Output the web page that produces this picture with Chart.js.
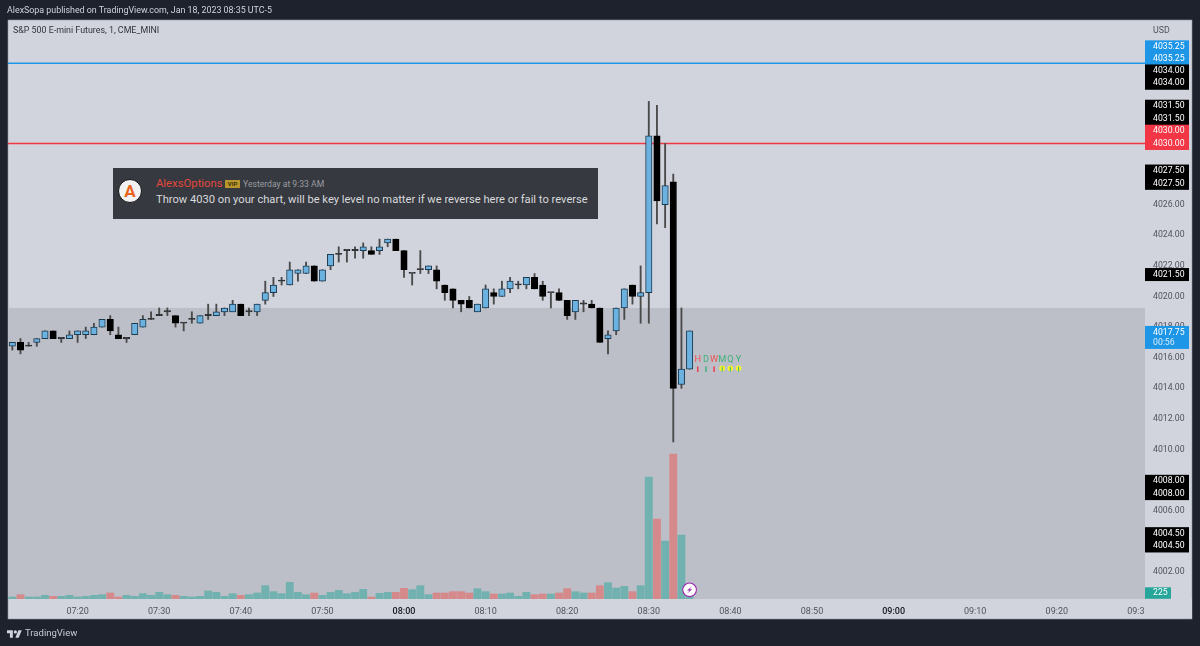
<!DOCTYPE html>
<html>
<head>
<meta charset="utf-8">
<title>ES 1m</title>
<script src="https://cdn.jsdelivr.net/npm/chart.js@4"></script>
<style>
	html, body { margin: 0; padding: 0; background: #1e222d; overflow: hidden; }
	#wrap { position: relative; width: 1200px; height: 646px; font-family: Roboto, sans-serif; }
	canvas { position: absolute; left: 0; top: 0; }
	.txt { position: absolute; white-space: nowrap; line-height: 1; }
	#published { left: 7px; top: 6px; font-size: 8.87px; color: #d1d4dc; }
	#symbol { left: 13px; top: 26px; font-size: 8.87px; color: #30333c; }
	#usd { left: 1153px; top: 26px; font-size: 8.8px; color: #50535e; }
	#brand { left: 25px; top: 628px; font-size: 9.5px; color: #c8cbd3; }
	#logo { position: absolute; left: 7px; top: 629px; }
	#card { position: absolute; left: 113px; top: 168px; width: 485px; height: 51px; background: #36393f; }
	#avatar { position: absolute; left: 5px; top: 11px; width: 22px; height: 22px; border: 1.5px solid #111; border-radius: 50%; background: #f2f2f2; color: #e8641e; font-weight: 700; font-size: 17px; line-height: 22px; text-align: center; }
	#name { left: 43px; top: 10px; font-size: 11.3px; color: #e2483d; }
	#vip { left: 112px; top: 12px; width: 15px; height: 8px; background: #b9962c; color: #3a3208; font-size: 6px; line-height: 8px; text-align: center; font-weight: 700; }
	#stamp { left: 130px; top: 12px; font-size: 8.6px; color: #9a9da3; }
	#message { left: 43px; top: 26px; font-size: 11.17px; color: #d8dadd; }
</style>
</head>
<body>
<div id="wrap">
	<canvas id="price-chart" width="1200" height="646"></canvas>
	<div class="txt" id="published">AlexSopa published on TradingView.com, Jan 18, 2023 08:35 UTC-5</div>
	<div class="txt" id="symbol">S&amp;P 500 E-mini Futures, 1, CME_MINI</div>
	<div class="txt" id="usd">USD</div>
	<div id="card">
		<div id="avatar">A</div>
		<div class="txt" id="name">AlexsOptions</div>
		<div class="txt" id="vip">VIP</div>
		<div class="txt" id="stamp">Yesterday at 9:33 AM</div>
		<div class="txt" id="message">Throw 4030 on your chart, will be key level no matter if we reverse here or fail to reverse</div>
	</div>
	<svg id="logo" width="15" height="10" viewBox="0 4 36 18"><path fill="#d1d4dc" d="M14 22H7V11H0V4h14v18zM28 22h-8l7.5-18h8L28 22z"/><circle fill="#d1d4dc" cx="20" cy="8" r="4"/></svg>
	<div class="txt" id="brand">TradingView</div>
</div>
<script>
// one bar per minute, first bar is 07:12
var firstBarMinute = 432;

var openPrices = [
	4016.75, 4017, 4016.75, 4017, 4017.25, 4017.75, 4017.25, 4017.25, 4017.5, 4017.5,
	4017.5, 4018, 4018.5, 4017.5, 4017.25, 4017.5, 4018, 4018.5, 4018.75, 4019,
	4018.75, 4018.25, 4018.5, 4018.25, 4018.75, 4018.75, 4019, 4019, 4019.5, 4019,
	4019, 4019.75, 4020.25, 4021, 4020.75, 4021.5, 4021.5, 4022, 4021, 4022,
	4022.75, 4023, 4023, 4023, 4023, 4023, 4023.5, 4023.75, 4023, 4021.5,
	4021.75, 4021.75, 4021.75, 4020.75, 4020.5, 4019.75, 4019.75, 4019, 4019.25, 4020.25,
	4020, 4020.5, 4020.75, 4020.75, 4021.25, 4020.75, 4020.25, 4020.25, 4019.75, 4019,
	4019.5, 4019.5, 4019.25, 4017.25, 4017.75, 4019.25, 4020.75, 4020, 4020.25, 4030.5,
	4026, 4027.5, 4014.25, 4015.25
];
var highPrices = [
	4017, 4017.25, 4017, 4017.25, 4017.75, 4017.75, 4017.25, 4017.75, 4017.75, 4018,
	4018.25, 4018.5, 4018.75, 4018, 4017.25, 4018.25, 4018.75, 4019, 4019.25, 4019.25,
	4018.75, 4018.25, 4019, 4018.75, 4019.5, 4019.5, 4019.25, 4019.75, 4019.5, 4019.25,
	4019.5, 4021, 4021.25, 4021.25, 4022.25, 4021.75, 4022.25, 4022, 4021.75, 4022.75,
	4023.25, 4023, 4023.25, 4023.5, 4023.25, 4023.75, 4023.75, 4023.75, 4023, 4021.5,
	4023, 4022, 4022, 4020.75, 4020.5, 4019.75, 4020, 4019.5, 4020.75, 4020.5,
	4021, 4021.25, 4021, 4021.25, 4021.5, 4021, 4020.25, 4020.5, 4019.75, 4019.75,
	4019.75, 4019.75, 4019.25, 4017.75, 4019.25, 4020.5, 4020.75, 4022, 4032.75, 4032.5,
	4030, 4028, 4019.25, 4017.75
];
var lowPrices = [
	4016.5, 4016.25, 4016.75, 4016.75, 4017.25, 4017.25, 4017, 4017.25, 4017, 4017.25,
	4017.5, 4018, 4017.5, 4017.25, 4017, 4017.5, 4018, 4018.5, 4018.75, 4018.75,
	4018, 4017.75, 4018.25, 4018.25, 4018.5, 4018.75, 4018.75, 4019, 4018.75, 4018.75,
	4018.75, 4019.5, 4020, 4020.75, 4020.75, 4021, 4021.5, 4021, 4021, 4021.75,
	4022.25, 4022.25, 4022.5, 4022.5, 4022.75, 4022.75, 4023.25, 4023, 4021.25, 4020.75,
	4021.5, 4021.5, 4020.5, 4019.75, 4019.25, 4019, 4019.25, 4019, 4019.25, 4019.5,
	4020, 4020.25, 4020.5, 4020.5, 4020.5, 4019.75, 4019.25, 4019.75, 4018.5, 4018.5,
	4019, 4019.25, 4017, 4016.25, 4017.5, 4018.5, 4019.5, 4018.25, 4018.25, 4024.75,
	4024.5, 4010.5, 4014, 4015.25
];
var closePrices = [
	4017, 4016.5, 4016.75, 4017.25, 4017.75, 4017.25, 4017.25, 4017.5, 4017.75, 4017.75,
	4018, 4018.5, 4017.75, 4017.25, 4017.25, 4018.25, 4018.5, 4018.5, 4018.75, 4019,
	4018.25, 4018.25, 4018.5, 4018.75, 4018.75, 4019, 4019.25, 4019.5, 4018.75, 4019,
	4019.5, 4020.25, 4020.75, 4021, 4021.75, 4021.75, 4022, 4021, 4021.75, 4022.75,
	4022.75, 4023, 4023, 4023.25, 4022.75, 4023.25, 4023.75, 4023, 4021.75, 4021.5,
	4021.75, 4022, 4021, 4020.25, 4019.75, 4019.5, 4019.25, 4019.5, 4020.5, 4020,
	4020.5, 4021, 4020.75, 4021.25, 4020.5, 4020, 4020.25, 4019.75, 4018.75, 4019.75,
	4019.5, 4019.25, 4017, 4017.5, 4019.25, 4020.5, 4020, 4020.25, 4030.5, 4026.25,
	4027.25, 4014, 4015.25, 4017.75
];
var volumes = [
	79, 171, 79, 79, 145, 105, 105, 145, 79, 105,
	145, 171, 237, 79, 145, 105, 211, 145, 263, 171,
	145, 105, 79, 105, 316, 263, 105, 211, 145, 171,
	237, 527, 290, 211, 658, 263, 171, 237, 145, 263,
	342, 211, 263, 382, 79, 224, 263, 263, 421, 369,
	527, 171, 237, 237, 290, 290, 237, 408, 290, 198,
	198, 237, 105, 263, 171, 198, 198, 237, 408, 290,
	237, 237, 527, 645, 435, 500, 290, 527, 4819, 3160,
	2291, 5728, 2528, 225
];

var timeTicks = [440, 450, 460, 470, 480, 490, 500, 510, 520, 530, 540, 550, 560, 570];
var timeLabels = ['07:20', '07:30', '07:40', '07:50', '08:00', '08:10', '08:20', '08:30', '08:40', '08:50', '09:00', '09:10', '09:20', '09:30'];
var priceTicks = [4002, 4004, 4006, 4008, 4010, 4012, 4014, 4016, 4018, 4020, 4022, 4024, 4026, 4028, 4030, 4032, 4034, 4036];

var levelBlue = 4035.25;
var levelRed = 4030;
var sessionShadeTop = 4019.25;

var badgeValues = [4035.25, 4034, 4031.5, 4030, 4027.5, 4021.5, 4017.75, 4008, 4004.5];
var badgeKinds = ['blue', 'black', 'black', 'red', 'black', 'black', 'blue', 'black', 'black'];
var badgeLines = [2, 2, 2, 2, 2, 1, 1, 2, 2];
var badgeShift = [-4, 1, -2, 0, 1.6, 1, 1.5, 13.5, 12.3];
var countdown = '00:56';

var tfLetters = ['H', 'D', 'W', 'M', 'Q', 'Y'];
var tfColors = ['#ef5350', '#3cb07a', '#ef5350', '#3cb07a', '#3cb07a', '#3cb07a'];
var tfMarks = ['red', 'green', 'red', 'dot', 'dot', 'dot'];

var barMinutes = openPrices.map(function (v, i) { return firstBarMinute + i; });
var lastIndex = barMinutes.length - 1;

var bullFill = '#6cb2e0';
var bullEdge = '#1c3a50';
var bearFill = '#000000';

function bodyFill(i) {
	if (closePrices[i] == openPrices[i]) return '#26282c';
	return closePrices[i] > openPrices[i] ? bullFill : bearFill;
}

function bodyEdge(i) {
	if (closePrices[i] == openPrices[i]) return '#26282c';
	return closePrices[i] > openPrices[i] ? bullEdge : bearFill;
}

function isBull(i) {
	return closePrices[i] >= openPrices[i];
}

var fontFamily = 'Roboto, sans-serif';

function isHour(c) {
	return c.tick && c.tick.value % 60 == 0;
}

function drawBadge(ctx, axis, i) {
	var fills = { blue: '#1e96e8', black: '#000000', red: '#f23645' };
	var second = axis.getPixelForValue(badgeValues[i]) + badgeShift[i];
	var text = badgeValues[i].toFixed(2);
	var x = 1145, w = 44;
	ctx.fillStyle = fills[badgeKinds[i]];
	ctx.textAlign = 'left';
	ctx.textBaseline = 'middle';
	ctx.font = '8.7px ' + fontFamily;
	if (badgeLines[i] == 2) {
		ctx.fillRect(x, second - 18.8, w, 25.3);
		ctx.fillStyle = '#ffffff';
		ctx.fillText(text, 1153, second - 12.3);
		ctx.fillText(text, 1153, second);
	} else if (text == closePrices[lastIndex].toFixed(2)) {
		ctx.fillRect(x, second - 6.5, w, 23);
		ctx.fillStyle = '#ffffff';
		ctx.fillText(text, 1153, second);
		ctx.fillStyle = '#d5ecfb';
		ctx.fillText(countdown, 1153, second + 10.8);
	} else {
		ctx.fillRect(x, second - 6.5, w, 13);
		ctx.fillStyle = '#ffffff';
		ctx.fillText(text, 1153, second);
	}
}

var tvPlugin = {
	id: 'tvPanels',
	beforeDraw: function (chart) {
		var ctx = chart.ctx;
		ctx.save();
		ctx.fillStyle = '#1e222d';
		ctx.fillRect(0, 0, 1200, 646);
		ctx.fillStyle = '#d1d4dc';
		ctx.fillRect(8, 20, 1184, 599);
		ctx.strokeStyle = '#9598a1';
		ctx.lineWidth = 0.6;
		ctx.strokeRect(8, 20, 1184, 599);
		ctx.restore();
	},
	beforeDatasetsDraw: function (chart) {
		var ctx = chart.ctx, area = chart.chartArea;
		var top = chart.scales.y.getPixelForValue(sessionShadeTop);
		ctx.save();
		ctx.fillStyle = '#bcbfc7';
		ctx.fillRect(area.left, top, area.right - area.left, area.bottom - top);
		ctx.restore();
	},
	afterDatasetsDraw: function (chart) {
		// cuts the last time label where the price scale starts
		var ctx = chart.ctx;
		ctx.save();
		ctx.fillStyle = '#d1d4dc';
		ctx.fillRect(1145, chart.chartArea.bottom, 47, 19);
		ctx.restore();
	},
	afterDraw: function (chart) {
		var ctx = chart.ctx, xs = chart.scales.x, ys = chart.scales.y, yv = chart.scales.yVol;
		ctx.save();
		for (var i = 0; i < badgeValues.length; i++) {
			drawBadge(ctx, ys, i);
		}

		// last volume
		var volY = yv.getPixelForValue(volumes[lastIndex]);
		ctx.fillStyle = '#26a69a';
		ctx.fillRect(1145, volY - 6, 26, 11.5);
		ctx.fillStyle = '#ffffff';
		ctx.font = '8.7px ' + fontFamily;
		ctx.textAlign = 'left';
		ctx.textBaseline = 'middle';
		ctx.fillText(String(volumes[lastIndex]), 1153, volY);

		// higher timeframe marks right of the last bar
		var markY = ys.getPixelForValue(openPrices[lastIndex]);
		ctx.textAlign = 'center';
		for (var j = 0; j < tfLetters.length; j++) {
			var tx = xs.getPixelForValue(barMinutes[lastIndex] + 1 + j);
			ctx.font = '9.2px ' + fontFamily;
			ctx.fillStyle = tfColors[j];
			ctx.fillText(tfLetters[j], tx, markY - 9);
			if (tfMarks[j] == 'dot') {
				ctx.fillStyle = '#f5f52a';
				ctx.beginPath();
				ctx.arc(tx, markY - 0.8, 2.8, 0, Math.PI * 2);
				ctx.fill();
				ctx.fillStyle = '#3cb07a';
				ctx.fillRect(tx - 0.5, markY - 2.5, 1, 5);
			} else {
				ctx.fillStyle = tfMarks[j] == 'red' ? '#f23645' : '#3cb07a';
				ctx.fillRect(tx - 0.7, markY - 2.8, 1.4, 5.6);
			}
		}

		// purple flash badge under the last bar
		var fx = xs.getPixelForValue(barMinutes[lastIndex]), fy = volY - 3.5;
		ctx.beginPath();
		ctx.arc(fx, fy, 6.8, 0, Math.PI * 2);
		ctx.fillStyle = '#ffffff';
		ctx.fill();
		ctx.lineWidth = 1.1;
		ctx.strokeStyle = '#9c27b0';
		ctx.stroke();
		ctx.beginPath();
		ctx.moveTo(fx + 2.4, fy - 3.6);
		ctx.lineTo(fx - 2.6, fy + 0.6);
		ctx.lineTo(fx - 0.2, fy + 0.6);
		ctx.lineTo(fx - 2.4, fy + 3.6);
		ctx.lineTo(fx + 2.6, fy - 0.6);
		ctx.lineTo(fx + 0.2, fy - 0.6);
		ctx.closePath();
		ctx.fillStyle = '#9c27b0';
		ctx.fill();
		ctx.restore();
	}
};

function toXY(values) {
	return barMinutes.map(function (m, i) { return { x: m, y: values[i] }; });
}

var xMin = 431.47;
var xMax = 570.81;

var priceChart = new Chart(document.getElementById('price-chart'), {
	type: 'bar',
	data: {
		datasets: [
			{
				type: 'line',
				label: 'Level 4035.25',
				data: [{ x: xMin, y: levelBlue }, { x: xMax, y: levelBlue }],
				borderColor: '#1e96e8',
				borderWidth: 1.5,
				pointRadius: 0,
				order: 6
			},
			{
				type: 'line',
				label: 'Level 4030',
				data: [{ x: xMin, y: levelRed }, { x: xMax, y: levelRed }],
				borderColor: '#f23645',
				borderWidth: 1.5,
				pointRadius: 0,
				order: 5
			},
			{
				label: 'Volume',
				yAxisID: 'yVol',
				data: toXY(volumes),
				backgroundColor: barMinutes.map(function (m, i) {
					return isBull(i) ? 'rgba(38,166,154,0.5)' : 'rgba(239,83,80,0.5)';
				}),
				barThickness: 7.2,
				order: 4
			},
			{
				label: 'Wick',
				data: toXY(lowPrices.map(function (l, i) { return [l, highPrices[i]]; })),
				backgroundColor: '#4a4a4a',
				barThickness: 1.2,
				minBarLength: 0,
				order: 3
			},
			{
				label: 'Body',
				data: toXY(openPrices.map(function (o, i) { return [o, closePrices[i]]; })),
				backgroundColor: barMinutes.map(function (m, i) { return bodyFill(i); }),
				borderColor: barMinutes.map(function (m, i) { return bodyEdge(i); }),
				borderWidth: 1,
				borderSkipped: false,
				barThickness: 6.4,
				minBarLength: 1.2,
				order: 2
			}
		]
	},
	options: {
		responsive: false,
		animation: false,
		datasets: { bar: { grouped: false } },
		layout: { padding: { left: 8, top: 20, right: 8, bottom: 27 } },
		plugins: {
			legend: { display: false },
			tooltip: { enabled: false },
			title: { display: false }
		},
		scales: {
			x: {
				type: 'linear',
				offset: false,
				min: xMin,
				max: xMax,
				grid: { display: false },
				border: { display: false },
				afterBuildTicks: function (axis) {
					axis.ticks = timeTicks.map(function (v) { return { value: v }; });
				},
				afterFit: function (axis) { axis.height = 20; },
				ticks: {
					z: 0,
					autoSkip: false,
					maxRotation: 0,
					padding: -1,
					callback: function (v) { return timeLabels[timeTicks.indexOf(v)]; },
					color: function (c) { return isHour(c) ? '#131722' : '#50535e'; },
					font: function (c) {
						return { family: 'Roboto', size: 9, weight: isHour(c) ? '500' : '400' };
					}
				}
			},
			y: {
				position: 'right',
				min: 4000.23,
				max: 4038.07,
				grid: { display: false },
				border: { display: false },
				afterBuildTicks: function (axis) {
					axis.ticks = priceTicks.map(function (v) { return { value: v }; });
				},
				afterFit: function (axis) { axis.width = 47; },
				ticks: {
					z: 1,
					autoSkip: false,
					padding: 0,
					color: '#50535e',
					font: { family: 'Roboto', size: 8.7 },
					callback: function (v) { return v.toFixed(2); }
				}
			},
			yVol: {
				display: false,
				min: 0,
				max: 22890
			}
		}
	},
	plugins: [tvPlugin]
});
</script>
</body>
</html>
